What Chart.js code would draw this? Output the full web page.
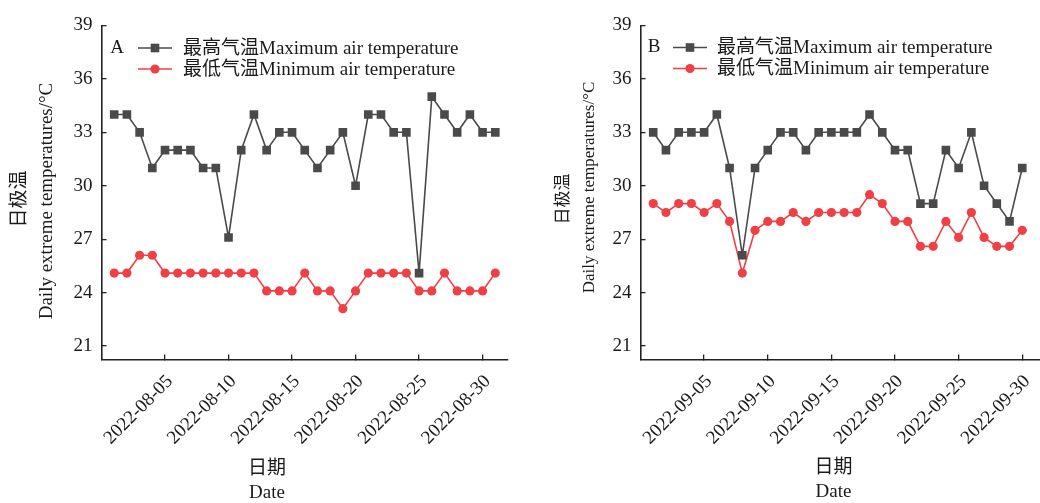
<!DOCTYPE html>
<html><head><meta charset="utf-8">
<script src="https://cdn.jsdelivr.net/npm/chart.js@4"></script>
<style>
html,body{margin:0;padding:0;width:1040px;height:503px;overflow:hidden;background:#fff}
.p{position:absolute;top:0;height:503px;overflow:hidden}
#wa{left:0;width:520px}
#wb{left:520px;width:540px}
</style></head><body>
<div class="p" id="wa"><canvas id="ca" width="520" height="503"></canvas></div>
<div class="p" id="wb"><canvas id="cb" width="540" height="503"></canvas></div>
<script>
// ---- data ----
const datesA = ['2022-08-01','2022-08-02','2022-08-03','2022-08-04','2022-08-05','2022-08-06','2022-08-07','2022-08-08','2022-08-09','2022-08-10','2022-08-11','2022-08-12','2022-08-13','2022-08-14','2022-08-15','2022-08-16','2022-08-17','2022-08-18','2022-08-19','2022-08-20','2022-08-21','2022-08-22','2022-08-23','2022-08-24','2022-08-25','2022-08-26','2022-08-27','2022-08-28','2022-08-29','2022-08-30','2022-08-31'];
const maxA = [34,34,33,31,32,32,32,31,31,27.1,32,34,32,33,33,32,31,32,33,30,34,34,33,33,25.1,35,34,33,34,33,33];
const minA = [25.1,25.1,26.1,26.1,25.1,25.1,25.1,25.1,25.1,25.1,25.1,25.1,24.1,24.1,24.1,25.1,24.1,24.1,23.1,24.1,25.1,25.1,25.1,25.1,24.1,24.1,25.1,24.1,24.1,24.1,25.1];

const datesB = ['2022-09-01','2022-09-02','2022-09-03','2022-09-04','2022-09-05','2022-09-06','2022-09-07','2022-09-08','2022-09-09','2022-09-10','2022-09-11','2022-09-12','2022-09-13','2022-09-14','2022-09-15','2022-09-16','2022-09-17','2022-09-18','2022-09-19','2022-09-20','2022-09-21','2022-09-22','2022-09-23','2022-09-24','2022-09-25','2022-09-26','2022-09-27','2022-09-28','2022-09-29','2022-09-30'];
const maxB = [33,32,33,33,33,34,31,26.1,31,32,33,33,32,33,33,33,33,34,33,32,32,29,29,32,31,33,30,29,28,31];
const minB = [29,28.5,29,29,28.5,29,28,25.1,27.5,28,28,28.5,28,28.5,28.5,28.5,28.5,29.5,29,28,28,26.6,26.6,28,27.1,28.5,27.1,26.6,26.6,27.5];

const xTicksA = ['2022-08-05','2022-08-10','2022-08-15','2022-08-20','2022-08-25','2022-08-30'];
const xTicksB = ['2022-09-05','2022-09-10','2022-09-15','2022-09-20','2022-09-25','2022-09-30'];
const yTicks = [21,24,27,30,33,36,39];

const seriesNames = ['最高气温Maximum air temperature','最低气温Minimum air temperature'];
const yTitle = ['日极温','Daily extreme temperatures/°C'];
const xTitle = ['日期','Date'];

// ---- styles ----
const FAM = '"Liberation Serif","Noto Sans CJK SC",serif';
const GRAY = '#4a4a4a';
const RED = '#ef4046';
const INK = '#1a1a1a';

const toDay = s => Number(s.slice(8,10));

function textPlugin(cfg){
  return {
    id:'txt'+cfg.panel,
    afterDraw(chart){
      const ctx = chart.ctx;
      ctx.save();
      ctx.fillStyle = INK;
      ctx.font = '19px '+FAM;
      ctx.textAlign='center'; ctx.textBaseline='middle';
      ctx.fillText(cfg.panel, cfg.panelX, cfg.rowY[0]);
      const styles = [{c:GRAY, s:'rect'},{c:RED, s:'circle'}];
      seriesNames.forEach((name,i)=>{
        const y = cfg.rowY[i];
        ctx.strokeStyle = styles[i].c; ctx.lineWidth = 1.6;
        ctx.beginPath(); ctx.moveTo(cfg.legX0,y); ctx.lineTo(cfg.legX1,y); ctx.stroke();
        const mx = (cfg.legX0+cfg.legX1)/2;
        ctx.fillStyle = styles[i].c;
        ctx.beginPath();
        if(styles[i].s==='rect'){ ctx.rect(mx-4.3,y-4.3,8.6,8.6);} else { ctx.arc(mx,y,4.6,0,Math.PI*2);}
        ctx.fill();
        ctx.fillStyle = INK;
        ctx.textAlign='left'; ctx.textBaseline='middle';
        ctx.font = '19px '+FAM;
        ctx.fillText(name, cfg.legTextX, y+1);
      });
      ctx.textAlign='center'; ctx.textBaseline='middle';
      ctx.font = '19px '+FAM;
      ctx.fillText(xTitle[0], cfg.xTitleX, cfg.xTitleY[0]);
      ctx.fillText(xTitle[1], cfg.xTitleX, cfg.xTitleY[1]);
      ctx.font = cfg.yFont+'px '+FAM;
      [0,1].forEach(i=>{
        ctx.save();
        ctx.translate(cfg.yTitleX[i], cfg.yTitleY[i]);
        ctx.rotate(-Math.PI/2);
        ctx.fillText(yTitle[i],0,0);
        ctx.restore();
      });
      ctx.restore();
    }
  };
}

function makeChart(id, dates, maxV, minV, xTickLabels, cfg){
  const tickDays = xTickLabels.map(toDay);
  return new Chart(document.getElementById(id), {
    type:'line',
    data:{datasets:[
      {label:seriesNames[0], data:dates.map((d,i)=>({x:toDay(d), y:maxV[i]})),
       borderColor:GRAY, backgroundColor:GRAY, borderWidth:1.6, pointStyle:'rect',
       pointRadius:6.1, pointBorderWidth:0, pointBackgroundColor:GRAY, tension:0},
      {label:seriesNames[1], data:dates.map((d,i)=>({x:toDay(d), y:minV[i]})),
       borderColor:RED, backgroundColor:RED, borderWidth:1.6, pointStyle:'circle',
       pointRadius:4.6, pointBorderWidth:0, pointBackgroundColor:RED, tension:0}
    ]},
    options:{
      responsive:false, animation:false, devicePixelRatio:1,
      layout:{padding:{left:0, right:cfg.padRight, top:12, bottom:0}},
      plugins:{legend:{display:false}, tooltip:{enabled:false}},
      scales:{
        x:{type:'linear', min:0, max:32,
          afterBuildTicks:s=>{ s.ticks = tickDays.map(v=>({value:v})); },
          afterFit:s=>{ s.height = 143.5; },
          ticks:{autoSkip:false, minRotation:45, maxRotation:45, padding:16, labelOffset:5,
            font:{family:FAM, size:19}, color:INK,
            callback:(v,i)=>xTickLabels[i]},
          grid:{drawOnChartArea:false, tickLength:-5, color:'#222', lineWidth:1.3},
          border:{color:'#222', width:1.6}
        },
        y:{type:'linear', min:20.25, max:39,
          afterBuildTicks:s=>{ s.ticks = yTicks.map(v=>({value:v})); },
          afterFit:s=>{ s.width = cfg.yWidth; },
          ticks:{padding:14, font:{family:FAM, size:19}, color:INK,
            callback:(v,i)=>String(yTicks[i])},
          grid:{drawOnChartArea:false, tickLength:-5, color:'#222', lineWidth:1.3},
          border:{color:'#222', width:1.6}
        }
      }
    },
    plugins:[textPlugin(cfg)]
  });
}

makeChart('ca', datesA, maxA, minA, xTicksA, {
  panel:'A', panelX:117, rowY:[48,69], legX0:138, legX1:172, legTextX:183,
  xTitleX:267, xTitleY:[469,493], yTitleX:[20,47], yTitleY:[199,201], yFont:19,
  padRight:12, yWidth:101.5
});
makeChart('cb', datesB, maxB, minB, xTicksB, {
  panel:'B', panelX:134, rowY:[47.5,68.5], legX0:153, legX1:187, legTextX:197,
  xTitleX:313.5, xTitleY:[468,492], yTitleX:[43.5,70], yTitleY:[199,187.5], yFont:17,
  padRight:12.3, yWidth:120.5
});
</script>
</body></html>
